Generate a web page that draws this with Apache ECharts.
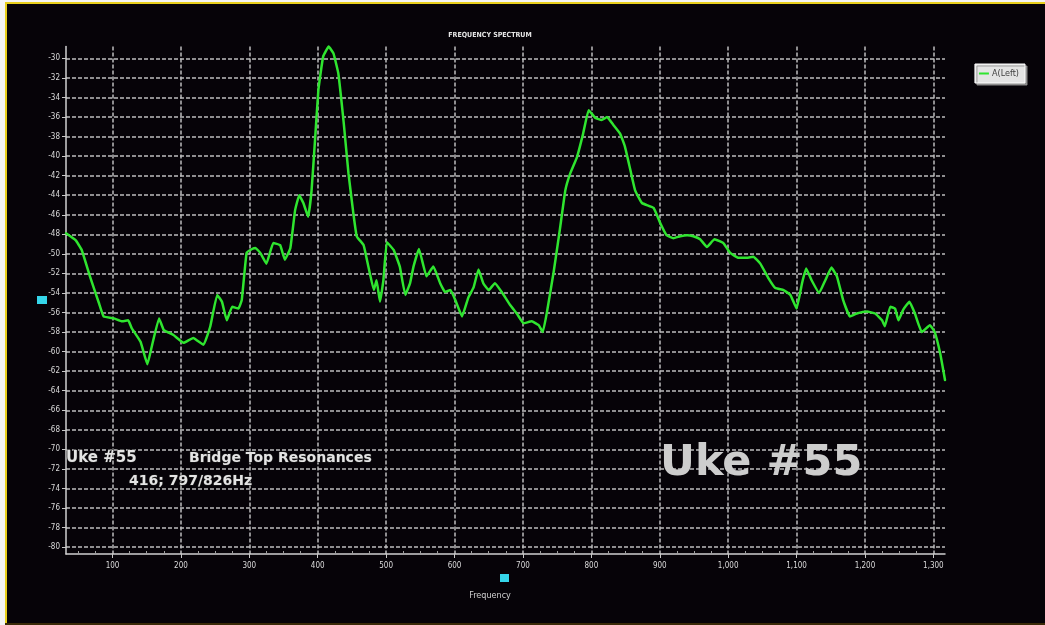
<!DOCTYPE html>
<html>
<head>
<meta charset="utf-8">
<script src="https://cdn.jsdelivr.net/npm/echarts@6/dist/echarts.min.js"></script>
<style>
  html, body { margin: 0; padding: 0; background: #ffffff; }
  #chart { width: 1045px; height: 625px; }
</style>
</head>
<body>
<div id="chart"></div>
<script>
// Frequency (Hz) and response level (dB) of the bridge tap spectrum
const freqHz = [
  32, 46, 55, 67, 80, 87, 102, 114, 123, 128, 141, 151, 158, 168, 175, 189,
  204, 218, 233, 243, 253, 260, 267, 275, 284, 289, 296, 304, 309, 316, 325,
  335, 345, 352, 360, 367, 373, 379, 386, 391, 396, 401, 408, 416, 423, 430,
  438, 445, 452, 457, 467, 474, 482, 486, 491, 496, 501, 511, 520, 528, 535,
  540, 548, 559, 569, 579, 586, 594, 601, 611, 620, 628, 635, 642, 650, 659,
  669, 681, 691, 701, 713, 723, 729, 735, 745, 754, 762, 769, 779, 788, 796,
  806, 815, 823, 832, 842, 849, 857, 864, 874, 891, 901, 910, 920, 930, 940,
  949, 959, 969, 980, 993, 1003, 1015, 1027, 1037, 1047, 1059, 1069, 1081,
  1091, 1100, 1108, 1114, 1122, 1133, 1142, 1151, 1159, 1168, 1178, 1188,
  1203, 1215, 1225, 1229, 1237, 1244, 1249, 1256, 1265, 1273, 1283, 1295,
  1302, 1310, 1317
];
const levelDb = [
  -47.9, -48.6, -49.6, -52.3, -55.0, -56.4, -56.6, -56.9, -56.8, -57.6, -59.0, -61.3, -59.3, -56.6, -57.8, -58.3,
  -59.1, -58.6, -59.3, -57.4, -54.2, -54.9, -56.8, -55.4, -55.6, -54.7, -49.9, -49.5, -49.4, -49.9, -51.0,
  -48.9, -49.1, -50.6, -49.4, -45.5, -44.0, -44.8, -46.2, -43.5, -38.4, -33.2, -29.8, -28.8, -29.5, -31.5,
  -36.6, -41.8, -45.8, -48.2, -49.1, -51.3, -53.7, -52.7, -54.9, -52.7, -48.8, -49.6, -51.3, -54.2, -53.0,
  -51.3, -49.5, -52.3, -51.3, -53.0, -53.9, -53.7, -54.7, -56.4, -54.5, -53.4, -51.6, -53.0, -53.7, -53.0,
  -53.9, -55.2, -56.1, -57.1, -56.9, -57.3, -58.0, -56.0, -51.8, -47.5, -43.5, -41.8, -40.1, -37.7, -35.3,
  -36.1, -36.3, -36.0, -36.8, -37.7, -39.0, -41.4, -43.5, -44.8, -45.3, -46.9, -48.1, -48.4, -48.2, -48.1,
  -48.2, -48.5, -49.3, -48.5, -48.9, -49.9, -50.4, -50.4, -50.3, -51.0, -52.5, -53.5, -53.7,
  -54.2, -55.6, -53.0, -51.5, -52.7, -54.0, -52.7, -51.4, -52.3, -54.7, -56.4, -56.1,
  -55.9, -56.1, -56.8, -57.4, -55.4, -55.6, -56.8, -55.7, -54.9, -56.1, -58.0, -57.3,
  -58.0, -60.2, -62.9
];

// Axis tick positions
const xTicks = [100, 200, 300, 400, 500, 600, 700, 800, 900, 1000, 1100, 1200, 1300];
const yTicks = [-30, -32, -34, -36, -38, -40, -42, -44, -46, -48, -50, -52, -54, -56, -58,
                -60, -62, -64, -66, -68, -70, -72, -74, -76, -78, -80];
const xMinorTicks = [];
for (let f = 50; f <= 1300; f += 25) { if (f % 100 !== 0) xMinorTicks.push(f); }

const seriesName = 'A(Left)';
const chartTitle = 'FREQUENCY SPECTRUM';
const xAxisName = 'Frequency';
const noteLine1a = 'Uke #55';
const noteLine1b = 'Bridge Top Resonances';
const noteLine2 = '416; 797/826Hz';
const bigLabel = 'Uke #55';

const points = freqHz.map((f, i) => [f, levelDb[i]]);

const gridColor = '#bdbdbd';
const textColor = '#dadada';
const narrow = '"Liberation Sans Narrow", "DejaVu Sans Condensed", "Liberation Sans", sans-serif';
const noteFont = '"DejaVu Sans", "Noto Sans", sans-serif';

const chart = echarts.init(document.getElementById('chart'), null, { renderer: 'canvas' });

chart.setOption({
  backgroundColor: '#060308',
  animation: false,
  grid: { left: 66, right: 100, top: 46.6, bottom: 71, containLabel: false },
  legend: {
    data: [seriesName],
    right: 20, top: 64,
    orient: 'vertical',
    icon: 'rect',
    itemWidth: 10, itemHeight: 2, itemGap: 2,
    padding: [5, 6, 5, 4],
    backgroundColor: '#e4e4e4',
    borderColor: '#ffffff', borderWidth: 1,
    shadowColor: 'rgba(150,150,150,0.9)', shadowOffsetX: 2, shadowOffsetY: 2, shadowBlur: 0,
    textStyle: { color: '#404040', fontSize: 9, fontFamily: narrow, padding: [0, 0, 0, -2] }
  },
  xAxis: [{
    type: 'value',
    min: 32, max: 1317,
    axisLine: { show: true, lineStyle: { color: '#d0d0d0', width: 1.5 } },
    axisTick: { show: true, customValues: xTicks, length: 4, lineStyle: { color: '#c8c8c8' } },
    axisLabel: {
      customValues: xTicks, color: textColor, fontSize: 8, fontFamily: narrow, margin: 8,
      formatter: v => v.toLocaleString('en-US')
    },
    splitLine: { show: true, lineStyle: { color: gridColor, width: 1.5, type: [4, 2] } }
  }, {
    type: 'value',
    position: 'bottom',
    min: 32, max: 1317,
    axisLine: { show: false },
    axisTick: { show: true, inside: true, customValues: xMinorTicks, length: 3, lineStyle: { color: '#a0a0a0' } },
    axisLabel: { show: false },
    splitLine: { show: false }
  }],
  yAxis: {
    type: 'value',
    min: -80.7, max: -28.8,
    axisLine: { show: true, lineStyle: { color: '#d0d0d0', width: 1.5 } },
    axisTick: { show: true, customValues: yTicks, length: 4, lineStyle: { color: '#c8c8c8' } },
    axisLabel: { customValues: yTicks, color: textColor, fontSize: 8, fontFamily: narrow, margin: 6 },
    splitLine: { show: true, lineStyle: { color: gridColor, width: 1.5, type: [4, 2] } }
  },
  series: [{
    name: seriesName,
    type: 'line',
    data: points,
    showSymbol: false,
    smooth: 0.1,
    clip: false,
    lineStyle: { color: '#2fe52f', width: 2.5, join: 'round', cap: 'round' },
    itemStyle: { color: '#2fe52f' },
    z: 5
  }],
  graphic: [
    // white page margin and yellow frame edge
    { type: 'rect', shape: { x: 0, y: 0, width: 5, height: 625 }, style: { fill: '#f4f4f4' }, z: 100 },
    { type: 'rect', shape: { x: 0, y: 0, width: 1045, height: 2 }, style: { fill: '#f4f4f4' }, z: 100 },
    { type: 'line', shape: { x1: 5, y1: 3, x2: 1045, y2: 3 }, style: { stroke: '#e8cf1c', lineWidth: 2 }, z: 100 },
    { type: 'line', shape: { x1: 6, y1: 2, x2: 6, y2: 625 }, style: { stroke: '#e8cf1c', lineWidth: 2 }, z: 100 },
    { type: 'line', shape: { x1: 5, y1: 624, x2: 1045, y2: 624 }, style: { stroke: '#3a2a08', lineWidth: 2 }, z: 100 },
    // title and axis caption
    { type: 'text', x: 490, y: 35, z: 100,
      style: { text: chartTitle, fill: '#e6e6e6', fontSize: 7, fontWeight: 'bold', fontFamily: narrow,
               align: 'center', verticalAlign: 'middle' } },
    { type: 'text', x: 490, y: 596, z: 100,
      style: { text: xAxisName, fill: '#d0d0d0', fontSize: 9, fontFamily: narrow,
               align: 'center', verticalAlign: 'middle' } },
    // axis handles
    { type: 'rect', shape: { x: 37, y: 296, width: 10, height: 8 }, style: { fill: '#35d6ea' }, z: 100 },
    { type: 'rect', shape: { x: 500, y: 574, width: 9, height: 8 }, style: { fill: '#35d6ea' }, z: 100 },
    // notes
    { type: 'text', x: 66, y: 458, z: 100,
      style: { text: noteLine1a, fill: '#e4e4e4', fontSize: 15, fontWeight: 'bold', fontFamily: noteFont,
               align: 'left', verticalAlign: 'middle', stroke: '#222', lineWidth: 1 } },
    { type: 'text', x: 189, y: 458, z: 100,
      style: { text: noteLine1b, fill: '#e4e4e4', fontSize: 14, fontWeight: 'bold', fontFamily: noteFont,
               align: 'left', verticalAlign: 'middle', stroke: '#222', lineWidth: 1 } },
    { type: 'text', x: 129, y: 481, z: 100,
      style: { text: noteLine2, fill: '#e4e4e4', fontSize: 14, fontWeight: 'bold', fontFamily: noteFont,
               align: 'left', verticalAlign: 'middle', stroke: '#222', lineWidth: 1 } },
    { type: 'text', x: 660, y: 464, z: 100,
      style: { text: bigLabel, fill: '#cdcdcd', fontSize: 43, fontWeight: 'bold', fontFamily: noteFont,
               align: 'left', verticalAlign: 'middle' } }
  ]
});
</script>
</body>
</html>
